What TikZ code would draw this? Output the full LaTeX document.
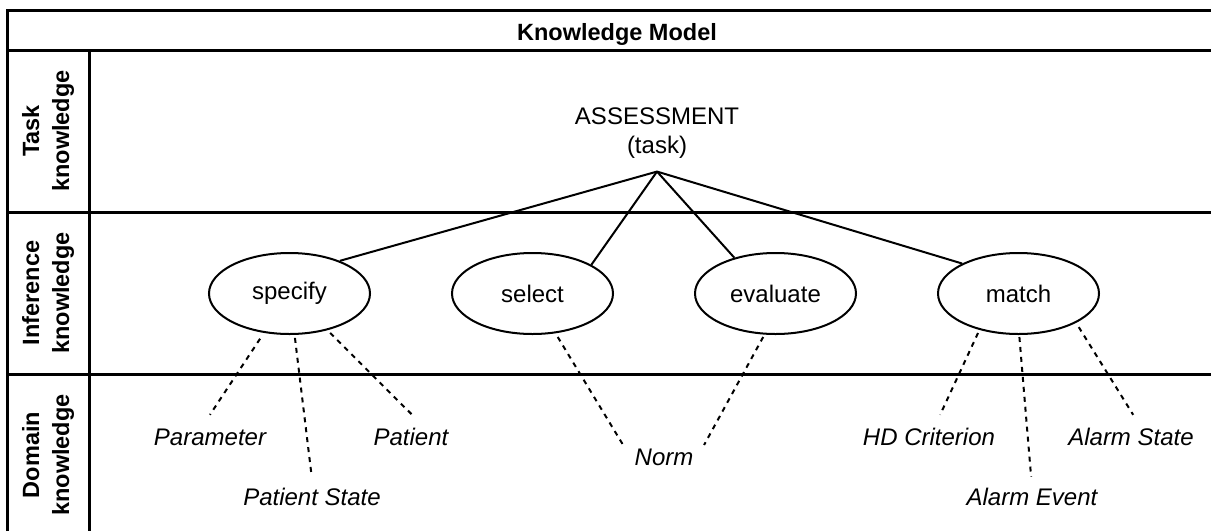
\documentclass[tikz,border=0pt]{standalone}
\usepackage{fontspec}
\setmainfont{Liberation Sans}
\usetikzlibrary{shapes.geometric}
\begin{document}
\begin{tikzpicture}[x=1pt,y=-1pt,
  frame/.style={line width=3pt},
  conn/.style={line width=2pt},
  dconn/.style={line width=2pt, dash pattern=on 5pt off 5pt},
  inf/.style={ellipse, draw, line width=2pt, minimum width=161pt, minimum height=81pt, inner sep=0pt, font=\fontsize{24}{29}\selectfont},
  dom/.style={font=\fontsize{24}{29}\selectfont\itshape, inner xsep=3pt, inner ysep=0pt, text height=17.5pt, text depth=5pt, anchor=base},
  side/.style={font=\fontsize{23.5}{30}\selectfont\bfseries, rotate=90, align=center, inner sep=0pt},
]
\useasboundingbox (0,0) rectangle (1211,531);
% table frame
\draw[frame, line join=miter] (7,531) -- (7,10) -- (1211,10);
\draw[frame] (7,50) -- (1211,50);
\draw[frame] (7,212) -- (1211,212);
\draw[frame] (7,374) -- (1211,374);
\draw[frame] (89,50) -- (89,531);
% header and row labels
\node[font=\fontsize{23.5}{28}\selectfont\bfseries, anchor=base, inner sep=0pt] (title) at (617,40) {Knowledge Model};
\node[side] (rowtask) at (48,131) {Task\\knowledge};
\node[side] (rowinf) at (48,293) {Inference\\knowledge};
\node[side] (rowdom) at (48,455) {Domain\\knowledge};
% task
\node[align=center, inner xsep=0pt, inner ysep=13pt, font=\fontsize{24}{29}\selectfont] (task) at (657,133) {ASSESSMENT\\(task)};
% inferences
\node[inf] (specify) at (289.5,293.5) {specify};
\node[inf] (select) at (532.5,293.5) {select};
\node[inf] (evaluate) at (775.5,293.5) {evaluate};
\node[inf] (match) at (1018.5,293.5) {match};
% domain
\node[dom] (param) at (210,445) {Parameter};
\node[dom] (pstate) at (312,505) {Patient State};
\node[dom] (patient) at (411,445) {Patient};
\node[dom] (norm) at (664,465) {Norm};
\node[dom] (hd) at (929,445) {HD Criterion};
\node[dom] (aevent) at (1032,505) {Alarm Event};
\node[dom] (astate) at (1131,445) {Alarm State};
% task to inferences
\draw[conn] (task.south) -- (specify.33);
\draw[conn] (task.south) -- (select.26);
\draw[conn] (task.south) -- (evaluate.139);
\draw[conn] (task.south) -- (match.152);
% inferences to domain
\draw[dconn, shorten <=7pt, shorten >=15pt] (specify.237) -- (param.126);
\draw[dconn, shorten <=3pt, shorten >=11.5pt] (specify.277) -- (pstate.85);
\draw[dconn, shorten <=3.8pt, shorten >=17.7pt] (specify.316) -- (patient.40);
\draw[dconn, shorten <=4.3pt, shorten >=16pt] (select.300) -- (norm.west);
\draw[dconn, shorten <=2.7pt, shorten >=15.7pt] (evaluate.255) -- (norm.east);
\draw[dconn, shorten <=3.4pt, shorten >=13.8pt] (match.223) -- (hd.65);
\draw[dconn, shorten <=2pt, shorten >=10.5pt] (match.271) -- (aevent.90);
\draw[dconn, shorten <=5pt, shorten >=14.7pt] (match.333) -- (astate.49);
\end{tikzpicture}
\end{document}
